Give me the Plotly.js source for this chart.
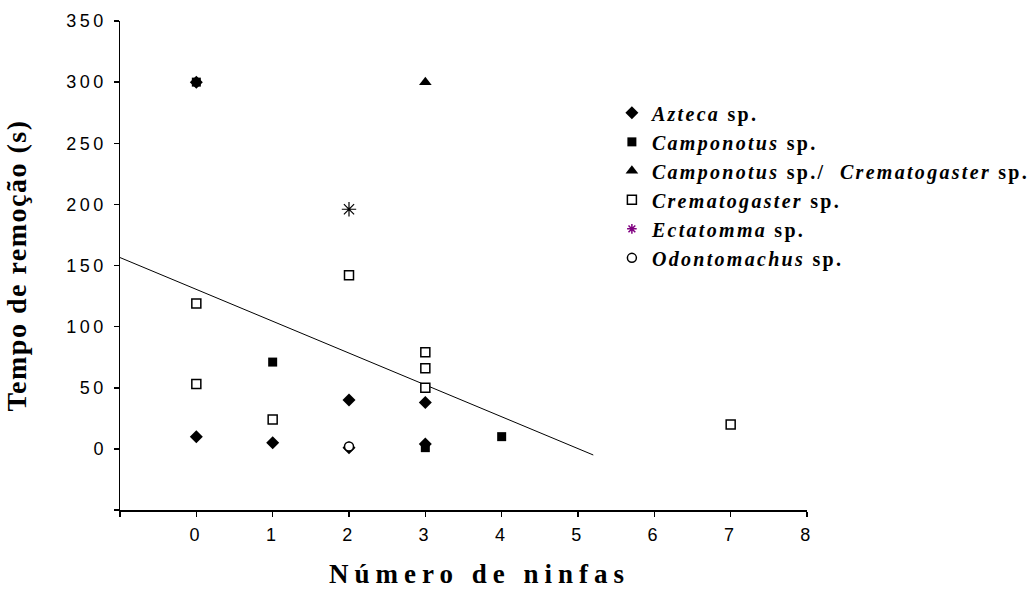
<!DOCTYPE html>
<html>
<head>
<meta charset="utf-8">
<script src="https://cdn.plot.ly/plotly-3.0.1.min.js"></script>
<style>
  html, body { margin: 0; padding: 0; background: #fff; }
  #chart { width: 1034px; height: 591px; }
</style>
</head>
<body>
<div id="chart"></div>
<script>
// ---- Data ----
const aztecaX = [0, 0, 1, 2, 2, 3, 3];
const aztecaY = [300, 10, 5, 40, 1, 38, 4];

const camponotusX = [0, 1, 3, 4];
const camponotusY = [300, 71, 1, 10];

const campCremX = [3];
const campCremY = [300];

const crematogasterX = [0, 0, 1, 2, 3, 3, 3, 7];
const crematogasterY = [119, 53, 24, 142, 79, 66, 50, 20];

const ectatommaX = [2];
const ectatommaY = [196];

const odontomachusX = [2];
const odontomachusY = [2];

// regression line end points
const trendX = [-1, 5.2];
const trendY = [156.5, -5];

const xTickVals = [-1, 0, 1, 2, 3, 4, 5, 6, 7, 8];
const xTickText = ['', '0', '1', '2', '3', '4', '5', '6', '7', '8'];
const yTickVals = [-50, 0, 50, 100, 150, 200, 250, 300, 350];
const yTickText = ['', '0', '50', '100', '150', '200', '250', '300', '350'];

const names = {
  azteca: '<i>Azteca</i> sp.',
  camponotus: '<i>Camponotus</i> sp.',
  campCrem: '<i>Camponotus</i> sp./  <i>Crematogaster</i> sp.',
  crematogaster: '<i>Crematogaster</i> sp.',
  ectatomma: '<i>Ectatomma</i> sp.',
  odontomachus: '<i>Odontomachus</i> sp.'
};

const traces = [
  { x: trendX, y: trendY, mode: 'lines', type: 'scatter', showlegend: false,
    line: { color: '#000', width: 1 }, hoverinfo: 'skip' },
  { x: aztecaX, y: aztecaY, mode: 'markers', type: 'scatter', name: names.azteca,
    marker: { symbol: 'diamond', size: 10, color: '#000' } },
  { x: camponotusX, y: camponotusY, mode: 'markers', type: 'scatter', name: names.camponotus,
    marker: { symbol: 'square', size: 9, color: '#000' } },
  { x: campCremX, y: campCremY, mode: 'markers', type: 'scatter', name: names.campCrem,
    marker: { symbol: 'triangle-up', size: 11, color: '#000' } },
  { x: crematogasterX, y: crematogasterY, mode: 'markers', type: 'scatter', name: names.crematogaster,
    marker: { symbol: 'square', size: 9, color: '#fff', line: { color: '#000', width: 1.5 } } },
  { x: [null], y: [null], mode: 'markers', type: 'scatter', name: names.ectatomma,
    marker: { symbol: 'asterisk-open', size: 8, color: '#800080', line: { color: '#800080', width: 1.5 } } },
  { x: ectatommaX, y: ectatommaY, mode: 'markers', type: 'scatter', name: names.ectatomma, showlegend: false,
    marker: { symbol: 'asterisk-open', size: 12, color: '#000', line: { color: '#000', width: 1.2 } } },
  { x: odontomachusX, y: odontomachusY, mode: 'markers', type: 'scatter', name: names.odontomachus,
    marker: { symbol: 'circle', size: 9, color: '#fff', line: { color: '#000', width: 1.5 } } }
];

const axisCommon = {
  showline: true, linecolor: '#000', linewidth: 1.5,
  ticks: 'outside', ticklen: 5, tickwidth: 1.5, tickcolor: '#000',
  showgrid: false, zeroline: false, automargin: false,
  tickfont: { family: 'Liberation Sans, Arial, sans-serif', size: 18, color: '#000' }
};

const layout = {
  width: 1034, height: 591,
  margin: { l: 120, r: 227, t: 21, b: 81 },
  paper_bgcolor: '#fff', plot_bgcolor: '#fff',
  showlegend: true,
  xaxis: Object.assign({}, axisCommon, {
    range: [-1, 8], tickmode: 'array', tickvals: xTickVals, ticktext: xTickText,
    ticklabelstandoff: 3,
    title: { text: 'Número de ninfas', standoff: 20,
      font: { family: 'Liberation Serif, Times New Roman, serif', size: 27, color: '#000', weight: 'bold' } }
  }),
  yaxis: Object.assign({}, axisCommon, {
    range: [-50, 350], tickmode: 'array', tickvals: yTickVals, ticktext: yTickText,
    ticklabelstandoff: 3,
    title: { text: 'Tempo de remoção (s)', standoff: 42,
      font: { family: 'Liberation Serif, Times New Roman, serif', size: 28, color: '#000', weight: 'bold' } }
  }),
  legend: {
    x: 0.716, xanchor: 'left', y: 0.852, yanchor: 'top',
    bgcolor: 'rgba(0,0,0,0)', borderwidth: 0, tracegroupgap: 0,
    font: { family: 'Liberation Serif, Times New Roman, serif', size: 20, color: '#000', weight: 'bold' }
  }
};

Plotly.newPlot('chart', traces, layout, { staticPlot: true, displayModeBar: false }).then(function (gd) {
  gd.querySelectorAll('.xtitle').forEach(function (e) {
    e.style.letterSpacing = '6px';
    e.setAttribute('transform', 'translate(16,0)');
  });
  gd.querySelectorAll('.ytitle').forEach(function (e) { e.style.letterSpacing = '1.5px'; });
  gd.querySelectorAll('.legendtext').forEach(function (e) { e.style.letterSpacing = '2.3px'; });
  gd.querySelectorAll('.legend .scrollbox, .legend').forEach(function (e) { e.removeAttribute('clip-path'); });
  gd.querySelectorAll('.xtick text, .ytick text').forEach(function (e) { e.style.letterSpacing = '3.5px'; });
});
</script>
</body>
</html>
